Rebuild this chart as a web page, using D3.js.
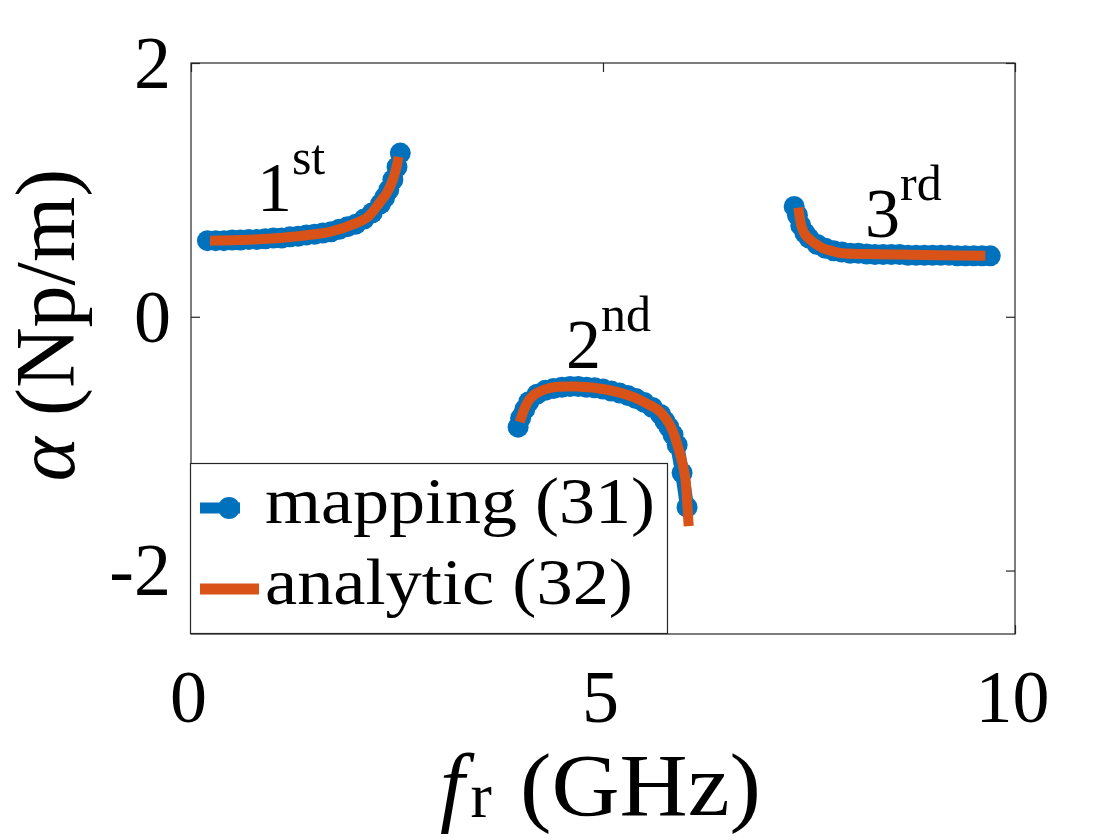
<!DOCTYPE html>
<html>
<head>
<meta charset="utf-8">
<script src="https://cdn.jsdelivr.net/npm/d3@7"></script>
<style>
  html, body { margin: 0; padding: 0; background: #ffffff; }
  svg { display: block; }
  text { font-family: "Liberation Serif", "DejaVu Serif", serif; fill: #000; }
</style>
</head>
<body>
<svg id="chart" width="1120" height="840"></svg>
<script>
// ---------------- data ----------------
// mapping (31): branch 1, 2, 3 — frequency (GHz) and alpha (Np/m)
const map1F = [0.2,0.3,0.4,0.5,0.6,0.7,0.8,0.9,1.0,1.1,1.2,1.3,1.4,1.5,1.6,1.7,1.8,1.9,2.0,2.1,2.2,2.3,2.35,2.4,2.45,2.5,2.54];
const map1A = [0.60,0.60,0.60,0.605,0.605,0.61,0.61,0.615,0.62,0.62,0.63,0.635,0.645,0.65,0.66,0.67,0.69,0.71,0.73,0.77,0.82,0.89,0.94,1.00,1.08,1.18,1.29];
const map2F = [3.97,4.0,4.05,4.1,4.2,4.3,4.4,4.5,4.6,4.7,4.8,4.9,5.0,5.1,5.2,5.3,5.4,5.5,5.6,5.7,5.75,5.8,5.85,5.9,5.96,6.02];
const map2A = [-0.87,-0.80,-0.73,-0.67,-0.61,-0.58,-0.565,-0.555,-0.55,-0.55,-0.555,-0.56,-0.57,-0.585,-0.60,-0.62,-0.645,-0.675,-0.715,-0.77,-0.82,-0.87,-0.93,-1.01,-1.23,-1.50];
const map3F = [7.32,7.36,7.4,7.45,7.5,7.6,7.7,7.8,7.9,8.0,8.1,8.2,8.3,8.4,8.5,8.6,8.7,8.8,8.9,9.0,9.1,9.2,9.3,9.4,9.5,9.6,9.7];
const map3A = [0.87,0.80,0.72,0.66,0.62,0.57,0.54,0.52,0.51,0.50,0.50,0.495,0.49,0.49,0.49,0.49,0.485,0.485,0.485,0.485,0.485,0.485,0.48,0.48,0.48,0.48,0.48];

// analytic (32)
const ana1F = [0.23,0.6,1.08,1.5,1.69,2.01,2.15,2.29,2.38,2.45,2.49,2.52];
const ana1A = [0.60,0.605,0.62,0.65,0.67,0.74,0.79,0.90,0.98,1.08,1.17,1.26];
const ana2F = [3.99,4.05,4.11,4.2,4.36,4.68,5.05,5.36,5.52,5.66,5.76,5.84,5.93,5.97,6.0,6.02,6.04];
const ana2A = [-0.83,-0.72,-0.65,-0.60,-0.56,-0.55,-0.575,-0.63,-0.68,-0.73,-0.80,-0.89,-1.07,-1.17,-1.28,-1.45,-1.65];
const ana3F = [7.37,7.41,7.45,7.51,7.59,7.67,7.8,7.91,8.2,8.64,9.1,9.64];
const ana3A = [0.86,0.71,0.65,0.61,0.57,0.54,0.515,0.50,0.495,0.49,0.485,0.48];

const xTicks = [0, 5, 10];
const yTicks = [-2, 0, 2];
const xTickLabels = ["0", "5", "10"];
const yTickLabels = ["-2", "0", "2"];

const annoText = ["1", "2", "3"];
const annoSup  = ["st", "nd", "rd"];
const annoF    = [0.80, 4.55, 8.18];
const annoA    = [0.83, -0.40, 0.63];

const legendLabels = ["mapping (31)", "analytic (32)"];

// ---------------- layout ----------------
const W = 1120, H = 840;
const L = 191, R = 1015, T = 63, B = 634;
const blue = "#0072BD", orange = "#D95319", axisCol = "#262626";

const svg = d3.select("#chart");
svg.append("rect").attr("width", W).attr("height", H).attr("fill", "#fff");

const x = d3.scaleLinear().domain([0, 10]).range([L, R]);
const y = d3.scaleLinear().domain([-2.5, 2]).range([B, T]);

const zip = (f, a) => f.map((v, i) => ({ f: v, a: a[i] }));
const mapping = [zip(map1F, map1A), zip(map2F, map2A), zip(map3F, map3A)];
const analytic = [zip(ana1F, ana1A), zip(ana2F, ana2A), zip(ana3F, ana3A)];

const plot = svg.append("g");

// mapping: thick blue line + filled markers
const lineLin = d3.line().x(d => x(d.f)).y(d => y(d.a));
mapping.forEach(br => {
  plot.append("path").datum(br)
    .attr("d", lineLin)
    .attr("fill", "none").attr("stroke", blue)
    .attr("stroke-width", 14).attr("stroke-linejoin", "round");
  plot.append("g").selectAll("circle").data(br).join("circle")
    .attr("cx", d => x(d.f)).attr("cy", d => y(d.a))
    .attr("r", 10.5).attr("fill", blue);
});

// analytic: orange line
const lineSmooth = d3.line().x(d => x(d.f)).y(d => y(d.a)).curve(d3.curveCatmullRom.alpha(0.5));
analytic.forEach(br => {
  plot.append("path").datum(br)
    .attr("d", lineSmooth)
    .attr("fill", "none").attr("stroke", orange)
    .attr("stroke-width", 10).attr("stroke-linejoin", "round");
});

// ---------------- axes ----------------
const tickFont = 74;
const gx = svg.append("g").attr("transform", `translate(0,${B})`)
  .call(d3.axisBottom(x).tickValues(xTicks).tickSize(-9).tickPadding(0)
    .tickFormat((d, i) => xTickLabels[i]));
const gxTop = svg.append("g").attr("transform", `translate(0,${T})`)
  .call(d3.axisTop(x).tickValues(xTicks).tickSize(-9).tickFormat(""));
const gy = svg.append("g").attr("transform", `translate(${L},0)`)
  .call(d3.axisLeft(y).tickValues(yTicks).tickSize(-9).tickPadding(0)
    .tickFormat((d, i) => yTickLabels[i]));
const gyR = svg.append("g").attr("transform", `translate(${R},0)`)
  .call(d3.axisRight(y).tickValues(yTicks).tickSize(-9).tickFormat(""));

[gx, gxTop, gy, gyR].forEach(g => {
  g.select(".domain").remove();
  g.selectAll(".tick line").attr("stroke", axisCol).attr("stroke-width", 1.2);
});
gx.selectAll(".tick text")
  .attr("font-family", "Liberation Serif").attr("font-size", tickFont)
  .attr("fill", "#262626").attr("x", -3).attr("y", 88).attr("dy", 0);
gy.selectAll(".tick text")
  .attr("font-family", "Liberation Serif").attr("font-size", tickFont)
  .attr("fill", "#262626").attr("x", -20).attr("dy", "0.33em");

// box
svg.append("rect")
  .attr("x", L).attr("y", T).attr("width", R - L).attr("height", B - T)
  .attr("fill", "none").attr("stroke", axisCol).attr("stroke-width", 1.2);

// axis labels
const xl = svg.append("text")
  .attr("x", 440).attr("y", 815)
  .attr("font-size", 88).attr("fill", "#262626");
xl.append("tspan").attr("font-style", "italic").text("f");
xl.append("tspan").attr("font-size", 64).attr("dx", 6).attr("dy", 2).text("r");
svg.append("text")
  .attr("x", 520).attr("y", 815)
  .attr("font-size", 88).attr("fill", "#262626")
  .attr("textLength", 241).attr("lengthAdjust", "spacingAndGlyphs")
  .text("(GHz)");

const yl = svg.append("text")
  .attr("transform", "translate(74,325) rotate(-90)")
  .attr("text-anchor", "middle")
  .attr("font-size", 84).attr("fill", "#262626");
yl.append("tspan").attr("font-style", "italic").text("α");
yl.append("tspan").text(" (Np/m)");

// annotations
annoText.forEach((t, i) => {
  const tx = svg.append("text")
    .attr("x", x(annoF[i])).attr("y", y(annoA[i]))
    .attr("font-size", 70).attr("fill", "#000");
  tx.append("tspan").text(t);
  tx.append("tspan").attr("font-size", 50).attr("dy", -37).text(annoSup[i]);
});

// ---------------- legend ----------------
const lg = svg.append("g");
lg.append("rect")
  .attr("x", 190.5).attr("y", 463.5).attr("width", 477).attr("height", 170)
  .attr("fill", "#fff").attr("stroke", axisCol).attr("stroke-width", 1.2);
const rowY = [508, 589];
const legendW = [390, 368];
// mapping sample
lg.append("line").attr("x1", 200).attr("x2", 240).attr("y1", rowY[0]).attr("y2", rowY[0])
  .attr("stroke", blue).attr("stroke-width", 11);
lg.append("circle").attr("cx", 229).attr("cy", rowY[0]).attr("r", 11).attr("fill", blue);
// analytic sample
lg.append("line").attr("x1", 200).attr("x2", 259).attr("y1", rowY[1]).attr("y2", rowY[1])
  .attr("stroke", orange).attr("stroke-width", 11);
legendLabels.forEach((t, i) => {
  lg.append("text").attr("x", 265).attr("y", rowY[i] + 15)
    .attr("font-size", 66).attr("fill", "#000")
    .attr("textLength", legendW[i]).attr("lengthAdjust", "spacingAndGlyphs")
    .text(t);
});
</script>
</body>
</html>
